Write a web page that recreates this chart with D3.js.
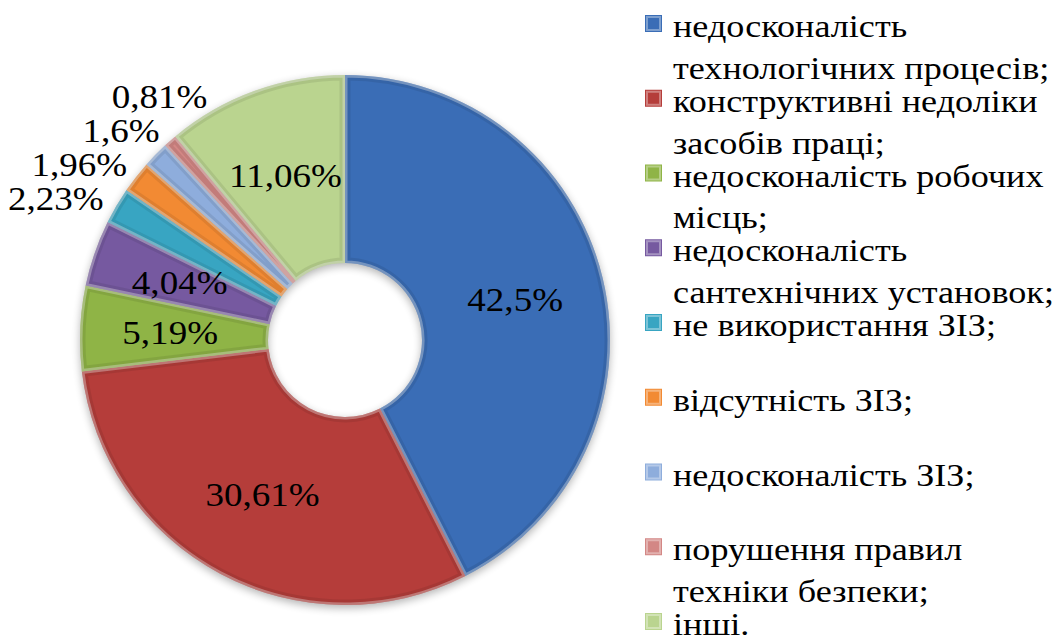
<!DOCTYPE html>
<html>
<head>
<meta charset="utf-8">
<script src="https://cdn.jsdelivr.net/npm/d3@7"></script>
</head>
<body style="margin:0">
<div style="position:absolute;left:-9999px;top:0;font-family:'Liberation Serif';font-size:32px">недосконалість 42,5%</div>
<svg id="chart" width="1064" height="635" font-family="Liberation Serif"></svg>
<script>
const W = 1064;
const H = 635;

// data
const categories = [
    ["недосконалість", "технологічних процесів;"],
    ["конструктивні недоліки", "засобів праці;"],
    ["недосконалість робочих", "місць;"],
    ["недосконалість", "сантехнічних установок;"],
    ["не використання ЗІЗ;"],
    ["відсутність ЗІЗ;"],
    ["недосконалість ЗІЗ;"],
    ["порушення правил", "техніки безпеки;"],
    ["інші."]
];
const values = [42.5, 30.61, 5.19, 4.04, 2.23, 1.96, 1.6, 0.81, 11.06];
const valueLabels = ["42,5%", "30,61%", "5,19%", "4,04%", "2,23%", "1,96%", "1,6%", "0,81%", "11,06%"];
const colors = ["#3a6db6", "#b53d3a", "#8fb446", "#7659a0", "#38a5c2", "#f28a33", "#8eaddc", "#d38785", "#bad48f"];

const FONT = "Liberation Serif";
if (document.fonts && document.fonts.load) {
    document.fonts.load('32px "Liberation Serif"', "недосконалість 42,5%");
}

const cx = 345, cy = 340;
const outerR = 265, innerR = 77;

const svg = d3.select("#chart");

const defs = svg.append("defs");

// soft shadow under the ring
const shadow = defs.append("filter").attr("id", "shadow")
    .attr("x", "-20%").attr("y", "-20%").attr("width", "140%").attr("height", "140%");
shadow.append("feGaussianBlur").attr("in", "SourceAlpha").attr("stdDeviation", 4);
shadow.append("feOffset").attr("dx", 0).attr("dy", 3).attr("result", "off");
shadow.append("feComponentTransfer").append("feFuncA").attr("type", "linear").attr("slope", 0.3);

const pie = d3.pie().sort(null).value(d => d);
const arcs = pie(values);

const arc = d3.arc().innerRadius(innerR).outerRadius(outerR);
const labelArc = d3.arc().innerRadius(175).outerRadius(175);

const g = svg.append("g")
    .attr("transform", `translate(${cx},${cy})`);

// shadow ring
g.append("path")
    .attr("d", arc({ startAngle: 0, endAngle: 2 * Math.PI }))
    .attr("fill", "#000")
    .attr("filter", "url(#shadow)");

// clip paths so the light edge stays inside each slice
arcs.forEach((d, i) => {
    defs.append("clipPath").attr("id", "clip" + i)
        .append("path").attr("d", arc(d));
});

const slices = g.selectAll("g.slice")
    .data(arcs)
    .enter()
    .append("g")
    .attr("class", "slice");

slices.append("path")
    .attr("d", arc)
    .attr("fill", (d, i) => colors[i]);

// bevel-ish edge: light rim + faint dark inner rim
slices.append("path")
    .attr("d", arc)
    .attr("fill", "none")
    .attr("stroke", "#fff")
    .attr("stroke-opacity", 0.35)
    .attr("stroke-width", 5)
    .attr("clip-path", (d, i) => `url(#clip${i})`);

slices.append("path")
    .attr("d", arc)
    .attr("fill", "none")
    .attr("stroke", "#000")
    .attr("stroke-opacity", 0.08)
    .attr("stroke-width", 11)
    .attr("clip-path", (d, i) => `url(#clip${i})`);

// inside labels for large slices (text slightly widened like the original)
const big = arcs.filter(d => d.data >= 3);
g.selectAll("text.val")
    .data(big)
    .enter()
    .append("text")
    .attr("class", "val")
    .attr("font-family", FONT)
    .style("font-family", FONT)
    .attr("font-size", 34)
    .attr("text-anchor", "middle")
    .attr("dy", "0.35em")
    .attr("transform", d => {
        const p = labelArc.centroid(d);
        return `translate(${p[0]},${p[1]}) scale(1.09,1)`;
    })
    .text(d => valueLabels[d.index]);

// outside labels for small slices, stacked so they do not collide
const R_OUT = 280;
const small = arcs.filter(d => d.data < 3);
const outPos = small.map(d => {
    const a = (d.startAngle + d.endAngle) / 2;
    return { d, x: R_OUT * Math.sin(a), y: -R_OUT * Math.cos(a) };
});
// lowest label first, push the next ones up
outPos.sort((a, b) => b.y - a.y);
for (let k = 1; k < outPos.length; k++) {
    const prev = outPos[k - 1];
    if (outPos[k].y > prev.y - 34) {
        outPos[k].y = prev.y - 34;
        outPos[k].x = -Math.sqrt(Math.max(0, R_OUT * R_OUT - outPos[k].y * outPos[k].y));
    }
}

g.selectAll("text.out")
    .data(outPos)
    .enter()
    .append("text")
    .attr("class", "out")
    .attr("font-family", FONT)
    .style("font-family", FONT)
    .attr("font-size", 34)
    .attr("text-anchor", "end")
    .attr("dy", "0.35em")
    .attr("transform", p => `translate(${p.x},${p.y}) scale(1.09,1)`)
    .text(p => valueLabels[p.d.index]);

// legend
const legendX = 645;
const legendY = d3.scalePoint()
    .domain(d3.range(categories.length))
    .range([24, 622]);

const items = svg.append("g").selectAll("g.item")
    .data(categories)
    .enter()
    .append("g")
    .attr("class", "item")
    .attr("transform", (d, i) => `translate(${legendX},${legendY(i)})`);

items.append("rect")
    .attr("x", 0)
    .attr("y", -9)
    .attr("width", 17)
    .attr("height", 17)
    .attr("fill", (d, i) => colors[i]);

items.append("rect")
    .attr("x", 2)
    .attr("y", -7)
    .attr("width", 13)
    .attr("height", 13)
    .attr("fill", "none")
    .attr("stroke", "#fff")
    .attr("stroke-opacity", 0.35)
    .attr("stroke-width", 2);

items.each(function (lines) {
    const t = d3.select(this).append("text")
        .attr("font-family", FONT)
        .style("font-family", FONT)
        .attr("font-size", 32)
        .attr("transform", "translate(28,0) scale(1.13,1)")
        .attr("x", 0)
        .attr("y", 13);
    lines.forEach((line, k) => {
        t.append("tspan")
            .attr("x", 0)
            .attr("dy", k === 0 ? 0 : 42)
            .text(line);
    });
});
</script>
</body>
</html>
